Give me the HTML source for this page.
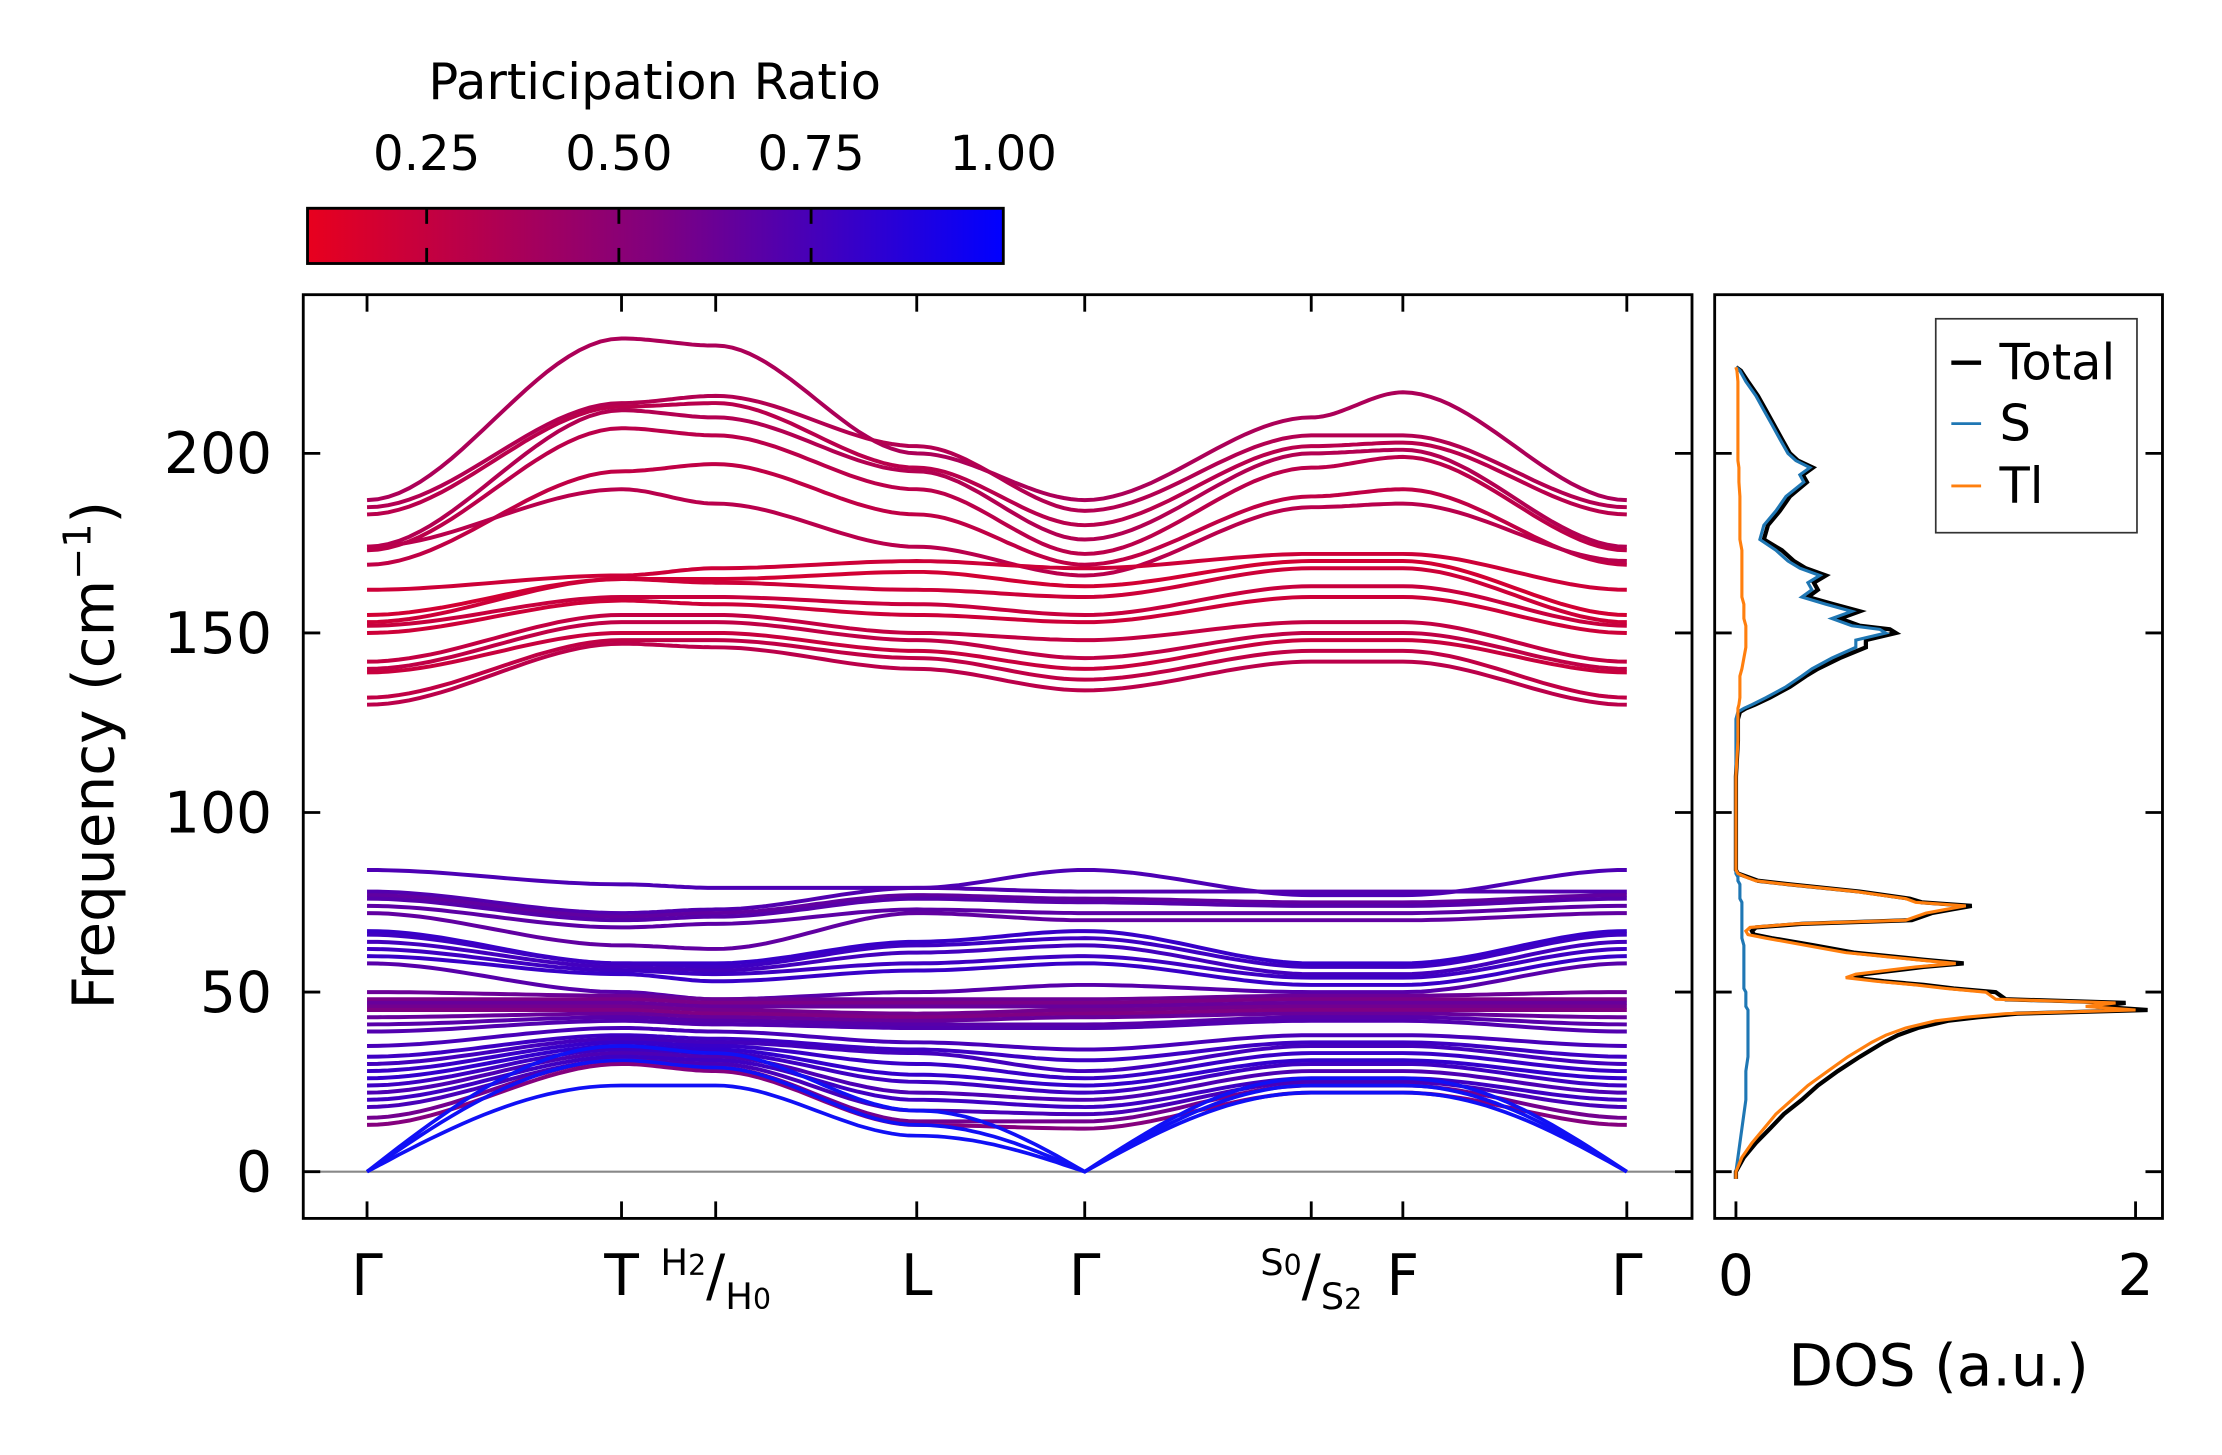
<!DOCTYPE html>
<html><head><meta charset="utf-8"><style>
html,body{margin:0;padding:0;background:#fff;}
svg{display:block;font-family:"DejaVu Sans","Liberation Sans",sans-serif;}
</style></head><body>
<svg id="fig" width="2222" height="1455" viewBox="0 0 1568 1027" preserveAspectRatio="none" xmlns="http://www.w3.org/2000/svg">
<defs>
<linearGradient id="cbg" x1="0" x2="1" y1="0" y2="0">
<stop offset="0" stop-color="#e8001e"/><stop offset="0.5" stop-color="#80007f"/><stop offset="1" stop-color="#0000ff"/>
</linearGradient>
<clipPath id="clipMain"><rect x="214" y="208" width="980" height="652"/></clipPath>
<clipPath id="clipDos"><rect x="1210" y="208" width="316" height="652"/></clipPath>
</defs>
<g>
<text x="462" y="70" font-size="35" text-anchor="middle">Participation Ratio</text>
<rect x="217" y="147" width="491" height="39" fill="url(#cbg)" stroke="#000" stroke-width="2"/>
<g id="cbticks"></g>
</g>
<g>
<line x1="214" x2="1194" y1="827" y2="827" stroke="#888" stroke-width="1.5"/>
<g id="bands" clip-path="url(#clipMain)"></g>
<rect x="214" y="208" width="980" height="652" fill="none" stroke="#000" stroke-width="2"/>
<g id="mainticks"></g>
<text transform="translate(80,533) rotate(-90)" font-size="41" text-anchor="middle">Frequency (cm<tspan dy="-16" font-size="27">−1</tspan><tspan dy="16">)</tspan></text>
</g>
<g>
<g id="dos" clip-path="url(#clipDos)"></g>
<rect x="1210" y="208" width="316" height="652" fill="none" stroke="#000" stroke-width="2"/>
<g id="dosticks"></g>
<text x="1368" y="978" font-size="41" text-anchor="middle">DOS (a.u.)</text>
<g>
<rect x="1366" y="225" width="142" height="151" fill="#fff" stroke="#333" stroke-width="1.2"/>
<line x1="1377" x2="1398" y1="256" y2="256" stroke="#000" stroke-width="3"/>
<text x="1411" y="268" font-size="35">Total</text>
<line x1="1377" x2="1398" y1="299" y2="299" stroke="#1f77b4" stroke-width="2"/>
<text x="1411" y="311" font-size="35">S</text>
<line x1="1377" x2="1398" y1="343" y2="343" stroke="#ff7f0e" stroke-width="2"/>
<text x="1411" y="355" font-size="35">Tl</text>
</g>
</g>
</svg>
<script>
// ---------- data ----------
const kLabels = ["Γ","T","H2/H0","L","Γ","S0/S2","F","Γ"];
const kPos = [0, 1.0, 1.37, 2.16, 2.82, 3.71, 4.07, 4.95];
const freqTicks = [0,50,100,150,200];
const cbTicks = [0.25,0.5,0.75,1.0];
const dosTicks = [0,2];
// band frequencies at the 8 high-symmetry points
const upperBands = [
 [187,232,230,200,187,210,217,187],
 [185,214,216,202,184,205,205,185],
 [183,213,214,196,180,202,203,183],
 [174,212,210,195,176,200,201,174],
 [173,207,205,190,172,196,199,173],
 [169,195,197,183,169,188,190,169],
 [174,190,186,174,166,185,186,170],
 [162,166,168,170,168,172,172,162],
 [155,165,165,167,163,170,170,155],
 [153,165,164,162,160,168,168,153],
 [152,160,160,158,155,163,163,152],
 [150,159,158,155,153,160,160,150],
 [142,155,155,150,148,153,153,142],
 [140,153,153,148,143,150,150,140],
 [139,150,150,145,140,148,148,139],
 [132,148,148,143,137,145,145,132],
 [130,147,146,140,134,142,142,130]
];
const upperPR = [0.33,0.3,0.28,0.3,0.27,0.25,0.28,0.2,0.18,0.2,0.22,0.2,0.24,0.25,0.22,0.25,0.27];
const lowerBands = [
 [84,80,79,79,84,77,77,84],
 [78,72,73,79,78,78,78,78],
 [77,71,72,77,76,75,75,77],
 [76,70,71,76,75,74,74,76],
 [74,68,69,73,72,72,72,74],
 [72,63,62,72,70,70,70,72],
 [67,58,58,64,67,58,58,67],
 [66,58,57,63,65,57,57,66],
 [64,57,56,61,63,55,55,64],
 [62,56,55,58,60,54,54,62],
 [60,55,53,56,58,52,52,60],
 [58,50,48,50,52,50,50,58],
 [50,49,48,48,48,49,49,50],
 [48,48,47,47,47,48,48,48],
 [47,47,46,46,46,47,47,47],
 [46,46,45,44,45,46,46,46],
 [45,45,44,43,44,45,45,45],
 [43,44,43,42,43,44,44,43],
 [41,43,42,41,41,43,43,41],
 [39,42,41,40,40,42,42,39],
 [35,40,39,36,34,38,38,35],
 [32,38,37,34,31,36,36,32],
 [30,37,36,33,28,35,35,30],
 [28,36,35,30,26,33,33,28],
 [26,35,34,27,24,31,31,26],
 [24,34,33,25,22,30,30,24],
 [22,33,32,22,20,28,28,22],
 [20,32,31,20,18,26,26,20],
 [18,31,30,17,16,25,25,18],
 [15,31,29,14,14,24,24,15],
 [13,30,28,13,12,22,22,13]
];
const lowerPR = [0.7,0.68,0.62,0.66,0.64,0.62,0.78,0.76,0.74,0.76,0.78,0.66,0.58,0.52,0.6,0.55,0.5,0.6,0.66,0.68,0.72,0.76,0.74,0.78,0.8,0.76,0.7,0.76,0.72,0.55,0.48];
const acousticBands = [
 [0,24,24,10,0,22,22,0],
 [0,31,29,13,0,24,24,0],
 [0,35,33,17,0,26,26,0]
];
// DOS
const dosFreq  = [-2,0,4,8,12,16,20,24,28,32,36,38,40,42,43,44,45,46,47,48,50,51,52,53,54,55,57,58,59,61,63,65,66,67,68,69,70,72,73,74,75,76,78,80,81,82,83,84,90,100,110,120,126,128,129,130,132,135,138,140,143,146,148,150,151,152,154,156,158,160,162,164,166,168,170,173,176,180,184,188,192,194,196,198,200,204,208,212,216,220,223,224];
const dosTl    = [0,0,0.03,0.08,0.14,0.2,0.28,0.36,0.46,0.56,0.68,0.75,0.85,1.0,1.15,1.35,2.0,1.75,1.9,1.3,1.25,1.05,0.9,0.7,0.55,0.6,0.9,1.1,0.9,0.55,0.35,0.15,0.06,0.05,0.07,0.3,0.85,0.95,1.05,1.15,0.9,0.85,0.6,0.25,0.1,0.05,0.01,0,0,0,0,0.01,0.01,0.01,0.01,0.015,0.02,0.02,0.02,0.03,0.04,0.05,0.05,0.05,0.05,0.05,0.04,0.04,0.04,0.03,0.03,0.03,0.03,0.03,0.03,0.03,0.02,0.02,0.02,0.02,0.015,0.015,0.015,0.01,0.01,0.01,0.01,0.01,0.01,0.01,0.005,0];
const dosS     = [0,0,0.01,0.02,0.03,0.04,0.05,0.05,0.05,0.06,0.06,0.06,0.06,0.06,0.06,0.06,0.06,0.05,0.05,0.05,0.05,0.04,0.04,0.04,0.04,0.04,0.04,0.04,0.04,0.04,0.04,0.03,0.03,0.03,0.03,0.03,0.03,0.03,0.03,0.03,0.03,0.02,0.02,0.02,0.01,0.01,0,0,0,0,0,0,0,0.01,0.04,0.08,0.15,0.25,0.33,0.38,0.48,0.6,0.6,0.75,0.72,0.58,0.48,0.58,0.45,0.33,0.38,0.36,0.42,0.32,0.26,0.2,0.12,0.14,0.2,0.25,0.34,0.32,0.37,0.3,0.26,0.22,0.18,0.14,0.1,0.05,0.02,0];
const dosTotal = [0,0,0.04,0.1,0.17,0.24,0.33,0.41,0.51,0.62,0.74,0.81,0.91,1.06,1.21,1.41,2.06,1.8,1.95,1.35,1.3,1.09,0.94,0.74,0.59,0.64,0.94,1.14,0.94,0.59,0.39,0.18,0.09,0.08,0.1,0.33,0.88,0.98,1.08,1.18,0.93,0.87,0.62,0.27,0.11,0.06,0.01,0,0,0,0,0.01,0.01,0.02,0.05,0.095,0.17,0.27,0.35,0.41,0.52,0.65,0.65,0.8,0.77,0.62,0.52,0.62,0.49,0.36,0.41,0.39,0.45,0.35,0.29,0.23,0.14,0.16,0.22,0.27,0.355,0.335,0.385,0.31,0.27,0.23,0.19,0.15,0.11,0.06,0.025,0];

// ---------- axes ----------
const NS="http://www.w3.org/2000/svg";
const X0=259, X1=1148, Y0=827, Ypx=(827-320)/200;
const xk = k => X0 + (k - kPos[0])/(kPos[7]-kPos[0])*(X1-X0);
const yf = f => Y0 - f*Ypx;
const xd = d => 1225 + d*(1507-1225)/2;
const cbx = p => 217 + (p-0.095)/(1-0.095)*491;
function prColor(p){let t=(p-0.095)/0.905;t=Math.max(0,Math.min(1,t));
 return `rgb(${Math.round(232*(1-t))},0,${Math.round(30+225*t)})`;}
function mk(tag,attrs,parent){const e=document.createElementNS(NS,tag);for(const k in attrs)e.setAttribute(k,attrs[k]);parent.appendChild(e);return e;}

// colorbar ticks
const cbG=document.getElementById('cbticks');
cbTicks.forEach(v=>{const x=cbx(v);
 if(v<1){const l=mk('line',{x1:x,x2:x,y1:147,y2:158,stroke:'#000','stroke-width':2},cbG);
  
  const l2=mk('line',{x1:x,x2:x,y1:175,y2:186,stroke:'#000','stroke-width':2},cbG);
  }
 const t=mk('text',{x:x,y:120,'font-size':34,'text-anchor':'middle'},cbG);t.textContent=v.toFixed(2);
 
});

// main ticks
const mt=document.getElementById('mainticks');
freqTicks.forEach(f=>{const y=yf(f);
 const a=mk('line',{x1:214,x2:226,y1:y,y2:y,stroke:'#000','stroke-width':2},mt);
 
 mk('line',{x1:1182,x2:1194,y1:y,y2:y,stroke:'#000','stroke-width':2},mt);
 mk('line',{x1:1210,x2:1222,y1:y,y2:y,stroke:'#000','stroke-width':2},mt);
 mk('line',{x1:1514,x2:1526,y1:y,y2:y,stroke:'#000','stroke-width':2},mt);
 const t=mk('text',{x:192,y:y+14,'font-size':40,'text-anchor':'end'},mt);t.textContent=f;
 
});
kPos.forEach((k,i)=>{const x=xk(k);
 const a=mk('line',{x1:x,x2:x,y1:848,y2:860,stroke:'#000','stroke-width':2},mt);
 
 mk('line',{x1:x,x2:x,y1:208,y2:220,stroke:'#000','stroke-width':2},mt);
 const lab=kLabels[i];let t;
 if(lab.includes('/')){const [a1,b1]=lab.split('/');
  t=mk('text',{x:x,y:914,'font-size':40,'text-anchor':'middle'},mt);
  const s1=mk('tspan',{'font-size':26,dy:-14},t);s1.textContent=a1[0];const s1b=mk('tspan',{'font-size':20,dy:0},t);s1b.textContent=a1[1];
  const s2=mk('tspan',{'font-size':40,dy:14},t);s2.textContent='/';
  const s3=mk('tspan',{'font-size':26,dy:10},t);s3.textContent=b1[0];const s3b=mk('tspan',{'font-size':20,dy:0},t);s3b.textContent=b1[1];
 } else {t=mk('text',{x:x,y:914,'font-size':40,'text-anchor':'middle'},mt);t.textContent=lab;}
 
});
const dt=document.getElementById('dosticks');
dosTicks.forEach(d=>{const x=xd(d);
 const a=mk('line',{x1:x,x2:x,y1:848,y2:860,stroke:'#000','stroke-width':2},dt);
 
 const t=mk('text',{x:x,y:914,'font-size':40,'text-anchor':'middle'},dt);t.textContent=d;
 
});

// bands
const bg=document.getElementById('bands');
function bandPath(vals,acoustic){let d='';
 for(let s=0;s<7;s++){const a=vals[s],b=vals[s+1];
  for(let j=0;j<=24;j++){const u=j/24;let v;
   if(acoustic&&a===0&&b!==0) v=b*Math.sin(u*Math.PI/2);
   else if(acoustic&&b===0&&a!==0) v=a*Math.sin((1-u)*Math.PI/2);
   else v=a+(b-a)*(3*u*u-2*u*u*u);
   const x=xk(kPos[s]+(kPos[s+1]-kPos[s])*u);
   d+=(d?'L':'M')+x.toFixed(1)+','+yf(v).toFixed(1);}}
 return d;}
lowerBands.forEach((b,i)=>{const p=mk('path',{d:bandPath(b,false),fill:'none',stroke:prColor(lowerPR[i]),'stroke-width':2.8},bg);
 });
upperBands.forEach((b,i)=>{const p=mk('path',{d:bandPath(b,false),fill:'none',stroke:prColor(upperPR[i]),'stroke-width':2.8},bg);
 });
acousticBands.forEach(b=>{const p=mk('path',{d:bandPath(b,true),fill:'none',stroke:'#1010f5','stroke-width':2.6},bg);
 });

// DOS
const dg=document.getElementById('dos');
function dosPath(arr){return arr.map((v,i)=>(i?'L':'M')+xd(v).toFixed(1)+','+yf(dosFreq[i]).toFixed(1)).join('');}
const pt=mk('path',{d:dosPath(dosTotal),fill:'none',stroke:'#000','stroke-width':3},dg);

const ps=mk('path',{d:dosPath(dosS),fill:'none',stroke:'#1f77b4','stroke-width':2.2},dg);

const pl=mk('path',{d:dosPath(dosTl),fill:'none',stroke:'#ff7f0e','stroke-width':2.2},dg);

</script>
</body></html>
